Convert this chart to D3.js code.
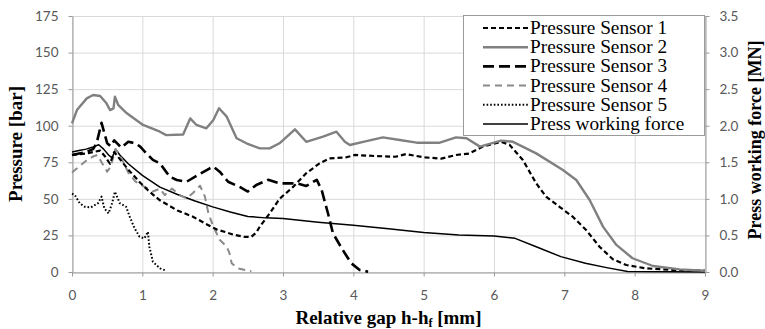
<!DOCTYPE html>
<html><head><meta charset="utf-8">
<script src="https://cdn.jsdelivr.net/npm/d3@7"></script>
<style>body{margin:0;background:#fff}svg{display:block}</style>
</head><body>
<svg id="c" width="765" height="329"></svg>
<script>
// ---- data (x: relative gap mm, y: pressure bar / force MN) ----
const xTicks = [0,1,2,3,4,5,6,7,8,9];
const yTicksLeft = [0,25,50,75,100,125,150,175];
const yTicksRight = ["0.0","0.5","1.0","1.5","2.0","2.5","3.0","3.5"];
const seriesNames = ["Pressure Sensor 1","Pressure Sensor 2","Pressure Sensor 3","Pressure Sensor 4","Pressure Sensor 5","Press working force"];

const sensor1 = [[0,80],[0.1,80.5],[0.2,81],[0.3,82],[0.4,83],[0.47,79],[0.54,74],[0.6,82],[0.7,76],[0.8,70],[0.97,61],[1.1,55],[1.25,49],[1.5,42],[1.72,37.8],[1.9,33],[2.06,29],[2.2,27],[2.3,25.5],[2.45,24],[2.55,24],[2.62,27],[2.67,31],[2.81,40],[2.95,50],[3.14,58],[3.33,67.5],[3.52,74.3],[3.66,77.7],[3.9,78.4],[4.02,80],[4.3,79.3],[4.6,78.8],[4.75,80.6],[5.0,78.4],[5.25,77.5],[5.46,80],[5.65,81],[5.84,85.7],[6.1,89],[6.22,87],[6.41,76.6],[6.6,60.6],[6.74,51.5],[6.93,44.6],[7.12,37.8],[7.31,28.7],[7.5,17.3],[7.69,8.7],[7.88,4.8],[8.16,2.5],[8.54,1.4],[9,0.9]];

const sensor2 = [[0,101.6],[0.07,110.7],[0.21,118.7],[0.3,121],[0.4,120.3],[0.49,115.3],[0.54,110.7],[0.59,111.9],[0.61,119.8],[0.66,114],[0.78,108.5],[1.01,100.5],[1.25,95.9],[1.34,93.6],[1.58,94],[1.68,105],[1.77,100.5],[1.91,98.2],[2.01,103.9],[2.09,111.9],[2.2,106.2],[2.34,91.4],[2.48,88],[2.67,84.5],[2.81,84.5],[2.95,88],[3.17,97.5],[3.33,89],[3.57,92.5],[3.76,95.9],[3.88,89],[3.95,86.8],[4.14,89],[4.42,92],[4.66,90.2],[4.9,88.4],[5.23,88.4],[5.46,92],[5.61,91.4],[5.8,85.7],[6.1,89.8],[6.27,89],[6.6,81.1],[6.98,69.7],[7.17,62.9],[7.36,49.2],[7.55,31],[7.74,18.5],[7.97,9.4],[8.26,4.1],[8.64,1.8],[9,0.9]];

const sensor3 = [[0,80],[0.2,82],[0.3,84],[0.35,88],[0.42,102],[0.46,95],[0.5,88],[0.55,86],[0.6,90],[0.7,85],[0.8,89],[0.9,88],[0.97,85.7],[1.06,81],[1.15,76.6],[1.25,74.3],[1.39,65.1],[1.49,62.9],[1.63,61.7],[1.79,66.3],[1.96,70.9],[2.01,72],[2.1,68.6],[2.22,61.7],[2.39,58],[2.5,55],[2.62,59.5],[2.79,63],[2.95,60.6],[3.2,60.6],[3.33,58.8],[3.48,63],[3.55,56],[3.64,40],[3.71,26.5],[3.85,15],[3.97,6],[4.09,1.4],[4.21,0.2]];

const sensor4 = [[0,68],[0.1,72],[0.2,76],[0.3,79],[0.36,80],[0.42,75],[0.5,68.6],[0.55,72],[0.62,84],[0.7,78],[0.8,68],[0.9,62],[1.0,59],[1.15,55],[1.25,57],[1.32,52.6],[1.42,57],[1.55,52],[1.63,50.4],[1.72,54],[1.82,59],[1.89,51.5],[1.94,40],[2.01,31],[2.1,22],[2.2,17.3],[2.24,12.8],[2.27,6],[2.36,2.5],[2.5,0.9],[2.55,0.5]];

const sensor5 = [[0,53.5],[0.04,52.6],[0.11,47],[0.18,44.6],[0.27,44.2],[0.37,47],[0.42,51.5],[0.46,43.5],[0.52,40.1],[0.57,47],[0.61,54.9],[0.68,47],[0.77,44.6],[0.82,37.8],[0.89,29.9],[0.96,24.1],[1.03,23],[1.08,27.5],[1.1,17.3],[1.15,7],[1.25,2.5],[1.34,0.9]];

// force in MN
const force = [[0,1.64],[0.1,1.66],[0.2,1.68],[0.3,1.71],[0.38,1.74],[0.45,1.68],[0.52,1.6],[0.57,1.56],[0.62,1.68],[0.68,1.6],[0.8,1.48],[1.0,1.32],[1.25,1.16],[1.5,1.06],[1.75,0.97],[2.0,0.89],[2.25,0.82],[2.5,0.76],[2.75,0.74],[3.0,0.73],[3.5,0.68],[4.0,0.64],[4.5,0.59],[5.0,0.54],[5.5,0.506],[6.0,0.492],[6.3,0.46],[6.6,0.346],[6.95,0.21],[7.3,0.12],[7.6,0.06],[7.9,0.006],[8.5,0.002],[9,0]];

// ---- layout ----
const svg = d3.select("#c");
const L = 72, R = 705, T = 16, B = 272;
const x = d3.scaleLinear().domain([0,9]).range([L,R]);
const y = d3.scaleLinear().domain([0,175]).range([B,T]);
const y2 = d3.scaleLinear().domain([0,3.5]).range([B,T]);
const tickFont = "Lato, 'Open Sans', sans-serif";
const serif = "'Liberation Serif', 'Times New Roman', serif";

// grid
svg.append("g").selectAll("line").data(yTicksLeft).join("line")
  .attr("x1",L).attr("x2",R).attr("y1",d=>y(d)+0.5).attr("y2",d=>y(d)+0.5)
  .attr("stroke","#d9d9d9").attr("stroke-width",1);
svg.append("g").selectAll("line").data(xTicks).join("line")
  .attr("y1",T).attr("y2",B).attr("x1",d=>x(d)+0.5).attr("x2",d=>x(d)+0.5)
  .attr("stroke","#d9d9d9").attr("stroke-width",1);

// axes
function styleAxis(g){
  g.select(".domain").attr("stroke","#9a9a9a");
  g.selectAll(".tick line").attr("stroke","#9a9a9a");
  g.selectAll(".tick text").attr("fill","#595959").style("font-family",tickFont).style("font-size","13.5px");
}
svg.append("g").attr("transform",`translate(${L+0.5},0)`)
  .call(d3.axisLeft(y).tickValues(yTicksLeft).tickSize(4).tickSizeOuter(0).tickPadding(10))
  .call(styleAxis);
svg.append("g").attr("transform",`translate(${R+0.5},0)`)
  .call(d3.axisRight(y2).tickValues(yTicksRight.map(Number)).tickFormat((d,i)=>yTicksRight[i]).tickSize(4).tickSizeOuter(0).tickPadding(10))
  .call(styleAxis);
svg.append("g").attr("transform",`translate(0,${B+0.5})`)
  .call(d3.axisBottom(x).tickValues(xTicks).tickSize(4).tickSizeOuter(0).tickPadding(14))
  .call(styleAxis);

// lines
const lineP = d3.line().x(d=>x(d[0])).y(d=>y(d[1]));
const lineF = d3.line().x(d=>x(d[0])).y(d=>y2(d[1]));
const styles = [
  {data:sensor1, gen:lineP, color:"#000", w:2.2, dash:"5,3"},
  {data:sensor2, gen:lineP, color:"#808080", w:2.4, dash:null},
  {data:sensor3, gen:lineP, color:"#000", w:2.6, dash:"11,5"},
  {data:sensor4, gen:lineP, color:"#8a8a8a", w:2.0, dash:"7,5"},
  {data:sensor5, gen:lineP, color:"#000", w:2.0, dash:"1.6,2"},
  {data:force, gen:lineF, color:"#000", w:1.5, dash:null}
];
const order = [5,3,4,2,0,1];
order.forEach(i=>{
  const s = styles[i];
  svg.append("path").datum(s.data).attr("d",s.gen)
    .attr("fill","none").attr("stroke",s.color).attr("stroke-width",s.w)
    .attr("stroke-dasharray",s.dash).attr("stroke-linejoin","round");
});

// legend
const lg = svg.append("g");
lg.append("rect").attr("x",463.5).attr("y",15.5).attr("width",241).attr("height",120)
  .attr("fill","#fff").attr("stroke","#9a9a9a");
seriesNames.forEach((n,i)=>{
  const yy = 28 + i*19.2;
  const s = styles[i];
  lg.append("line").attr("x1",483).attr("x2",528).attr("y1",yy).attr("y2",yy)
    .attr("stroke",s.color).attr("stroke-width",s.w).attr("stroke-dasharray",s.dash);
  lg.append("text").attr("x",530).attr("y",yy+6).text(n)
    .style("font-family",serif).style("font-size","19.3px").attr("fill","#000");
});

// titles
svg.append("text").attr("transform",`translate(22,${(T+B)/2}) rotate(-90)`)
  .attr("text-anchor","middle").style("font-family",serif).style("font-weight","bold").style("font-size","19px")
  .text("Pressure [bar]");
svg.append("text").attr("transform",`translate(761,${(T+B)/2-4}) rotate(-90)`)
  .attr("text-anchor","middle").style("font-family",serif).style("font-weight","bold").style("font-size","18px")
  .text("Press working force [MN]");
const xt = svg.append("text").attr("x",(L+R)/2).attr("y",324).attr("text-anchor","middle")
  .style("font-family",serif).style("font-weight","bold").style("font-size","19px");
xt.append("tspan").text("Relative gap h-h");
xt.append("tspan").attr("dy",3).style("font-size","12px").text("f");
xt.append("tspan").attr("dy",-3).text(" [mm]");
</script>
</body></html>
